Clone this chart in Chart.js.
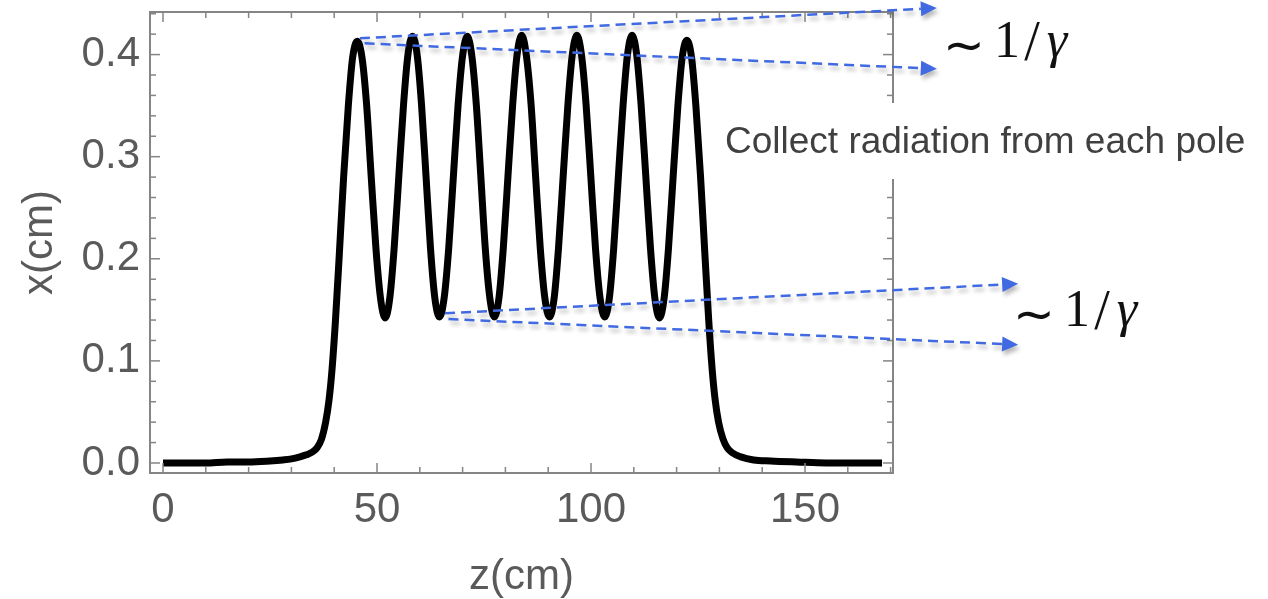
<!DOCTYPE html>
<html><head><meta charset="utf-8">
<script src="https://cdn.jsdelivr.net/npm/chart.js@4.4.1/dist/chart.umd.min.js"></script>
<style>html,body{margin:0;padding:0;background:#fff;overflow:hidden}</style>
</head><body>
<canvas id="c" width="1268" height="599"></canvas>
<script>
// ---- data ----
const zValues = [0,5,10,15,20,25,28,30,32,33.5,35,36,37,38,38.8,39.5,40.3,41.2,42.2,43.3,44.3,45.4,
 46.5,47.55,48.65,49.75,50.8,51.9,
 53.0,54.0,55.1,56.2,57.2,58.3,
 59.4,60.4,61.45,62.5,63.5,64.6,
 65.7,66.75,67.85,68.95,70.0,71.1,
 72.15,73.2,74.25,75.3,76.35,77.4,
 78.5,79.5,80.6,81.7,82.7,83.8,
 84.9,86.0,87.05,88.15,89.2,90.3,
 91.4,92.4,93.5,94.6,95.6,96.7,
 97.8,98.85,99.95,101.05,102.1,103.2,
 104.3,105.3,106.4,107.5,108.5,109.6,
 110.7,111.7,112.8,113.9,114.9,116.0,
 117.1,118.1,119.2,120.3,121.3,122.4,
 123.5,124.5,125.6,126.6,127.5,128.3,129.0,129.8,130.8,131.8,133.0,135,138,142,148,155,162,168];
const xValues = [0.000,0.000,0.000,0.001,0.001,0.002,0.003,0.004,0.006,0.008,0.011,0.015,0.023,0.040,0.062,0.092,0.140,0.205,0.280,0.350,0.397,0.413,
 0.397,0.352,0.280,0.210,0.162,0.142,
 0.162,0.210,0.281,0.351,0.399,0.418,
 0.399,0.351,0.281,0.210,0.162,0.143,
 0.162,0.210,0.281,0.351,0.399,0.418,
 0.399,0.351,0.281,0.210,0.162,0.143,
 0.162,0.210,0.281,0.351,0.399,0.419,
 0.399,0.351,0.281,0.210,0.162,0.143,
 0.162,0.210,0.281,0.351,0.399,0.419,
 0.399,0.351,0.281,0.210,0.162,0.143,
 0.162,0.210,0.281,0.351,0.399,0.419,
 0.399,0.351,0.281,0.210,0.162,0.142,
 0.162,0.210,0.281,0.350,0.397,0.414,
 0.397,0.350,0.280,0.205,0.140,0.092,0.062,0.040,0.024,0.015,0.010,0.006,0.003,0.002,0.001,0.000,0.000,0.000];
const xTickLabels = [0, 50, 100, 150];
const yTickLabels = [0.0, 0.1, 0.2, 0.3, 0.4];
const xMinorTicks = [0,10,20,30,40,50,60,70,80,90,100,110,120,130,140,150,160,170];
const yMinorTicks = [0,0.02,0.04,0.06,0.08,0.1,0.12,0.14,0.16,0.18,0.2,0.22,0.24,0.26,0.28,0.3,0.32,0.34,0.36,0.38,0.4,0.42,0.44];
// annotation arrows in data coordinates: [zStart, xStart, zTip, xTip]
const arrows = [
  [46.0, 0.416, 180.8, 0.4456],
  [47.1, 0.411, 180.8, 0.386],
  [65.9, 0.1466, 199.8, 0.1756],
  [66.7, 0.141, 199.8, 0.1158]
];
const annotText = 'Collect radiation from each pole';

const TICK_COLOR = '#5a5a5a';
const FRAME_COLOR = '#858585';
const BLUE = '#4169e1';

const points = zValues.map((z, i) => ({x: z, y: xValues[i]}));

Chart.defaults.font.family = "'Liberation Sans', Arial, Helvetica, sans-serif";

const annot = {
  id: 'annot',
  afterDatasetsDraw(chart) {
    const {ctx, chartArea: a, scales: {x: sx, y: sy}} = chart;
    ctx.save();
    // frame
    ctx.strokeStyle = FRAME_COLOR;
    ctx.lineWidth = 2;
    ctx.strokeRect(a.left, a.top, a.right - a.left, a.bottom - a.top);
    // inward ticks on all four sides
    ctx.lineWidth = 1.5;
    const seg = (x1, y1, x2, y2) => { ctx.beginPath(); ctx.moveTo(x1, y1); ctx.lineTo(x2, y2); ctx.stroke(); };
    xMinorTicks.forEach(v => {
      const p = sx.getPixelForValue(v);
      const L = xTickLabels.includes(v) ? 10 : 6;
      seg(p, a.bottom, p, a.bottom - L);
      seg(p, a.top, p, a.top + L);
    });
    yMinorTicks.forEach(v => {
      const p = sy.getPixelForValue(v);
      const major = yTickLabels.some(t => Math.abs(t - v) < 1e-9);
      const L = major ? 10 : 6;
      seg(a.left, p, a.left + L, p);
      seg(a.right, p, a.right - L, p);
    });
    // white box behind the annotation text
    ctx.fillStyle = '#ffffff';
    ctx.fillRect(715, 103, 548, 76);
    ctx.fillStyle = '#404040';
    ctx.font = "37px 'Liberation Sans', Arial, sans-serif";
    ctx.textAlign = 'left';
    ctx.textBaseline = 'alphabetic';
    ctx.fillText(annotText, 725, 153);

    // dashed arrows
    arrows.forEach(([z0, x0, z1, x1]) => {
      const X0 = sx.getPixelForValue(z0), Y0 = sy.getPixelForValue(x0);
      const X1 = sx.getPixelForValue(z1), Y1 = sy.getPixelForValue(x1);
      const dx = X1 - X0, dy = Y1 - Y0, len = Math.hypot(dx, dy);
      const ux = dx / len, uy = dy / len;
      const head = 16, hw = 7.5;
      const bx = X1 - ux * head, by = Y1 - uy * head;
      ctx.save();
      ctx.shadowColor = 'rgba(0,0,0,0.28)';
      ctx.shadowBlur = 4;
      ctx.shadowOffsetX = 2;
      ctx.shadowOffsetY = 4;
      ctx.strokeStyle = BLUE;
      ctx.lineWidth = 2.5;
      ctx.setLineDash([10, 6]);
      ctx.beginPath(); ctx.moveTo(X0, Y0); ctx.lineTo(bx, by); ctx.stroke();
      ctx.setLineDash([]);
      ctx.fillStyle = BLUE;
      ctx.beginPath();
      ctx.moveTo(X1, Y1);
      ctx.lineTo(bx - uy * hw, by + ux * hw);
      ctx.lineTo(bx + uy * hw, by - ux * hw);
      ctx.closePath();
      ctx.fill();
      ctx.restore();
    });

    // ~ 1/gamma labels
    const drawGamma = (ox, base) => {
      ctx.fillStyle = '#111111';
      ctx.textBaseline = 'alphabetic';
      ctx.textAlign = 'center';
      ctx.font = "50px 'DejaVu Sans', sans-serif";
      ctx.fillText('\u223C', ox + 16, base + 5);
      ctx.font = "52px 'Liberation Serif', 'DejaVu Serif', serif";
      ctx.fillText('1', ox + 59, base);
      ctx.font = "56px 'Liberation Serif', 'DejaVu Serif', serif";
      ctx.fillText('/', ox + 84, base + 3);
      ctx.font = "italic 52px 'Liberation Serif', 'DejaVu Serif', serif";
      ctx.fillText('\u03B3', ox + 109, base);
    };
    drawGamma(948, 57);
    drawGamma(1018, 326);
    ctx.restore();
  }
};

new Chart(document.getElementById('c'), {
  type: 'scatter',
  data: {
    datasets: [{
      data: points,
      showLine: true,
      borderColor: '#000000',
      borderWidth: 7,
      pointRadius: 0,
      cubicInterpolationMode: 'monotone',
      tension: 0.4,
      fill: false
    }]
  },
  options: {
    responsive: false,
    animation: false,
    devicePixelRatio: 1,
    layout: {padding: {left: 0, top: 12, right: 375, bottom: 0}},
    plugins: {legend: {display: false}, tooltip: {enabled: false}},
    scales: {
      x: {
        type: 'linear', min: -3.04, max: 170.56,
        grid: {display: false, drawTicks: false},
        border: {display: false},
        afterBuildTicks: s => { s.ticks = xTickLabels.map(v => ({value: v})); },
        afterFit: s => { s.height = 126; s.paddingLeft = 0; s.paddingRight = 0; },
        ticks: {font: {size: 42}, color: TICK_COLOR, padding: 12, maxRotation: 0, autoSkip: false},
        title: {display: true, text: 'z(cm)', color: TICK_COLOR, font: {size: 42, lineHeight: 1.05}, padding: {top: 0, bottom: 0}}
      },
      y: {
        type: 'linear', min: -0.0098, max: 0.4417,
        grid: {display: false, drawTicks: false},
        border: {display: false},
        afterBuildTicks: s => { s.ticks = yTickLabels.map(v => ({value: v})); },
        afterFit: s => { s.width = 150; s.paddingTop = 0; s.paddingBottom = 0; },
        ticks: {font: {size: 42}, color: TICK_COLOR, padding: 10, autoSkip: false, callback: v => Number(v).toFixed(1)},
        title: {display: true, text: 'x(cm)', color: TICK_COLOR, font: {size: 42, lineHeight: 1.2}, padding: {top: 15, bottom: 0}}
      }
    }
  },
  plugins: [annot]
});
</script>
</body></html>
